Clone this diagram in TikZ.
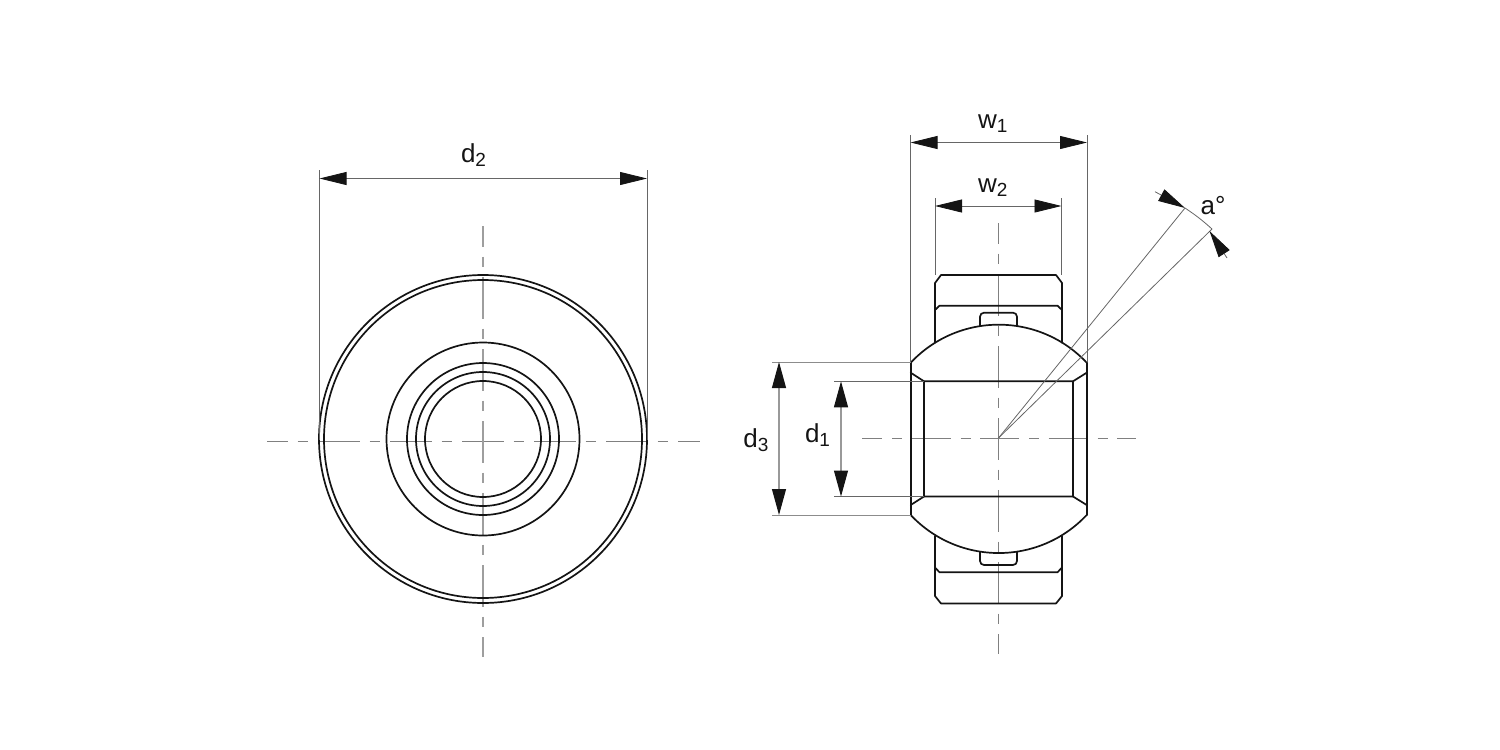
\documentclass[tikz,border=0pt]{standalone}
\usepackage{fontspec}
\setmainfont{Liberation Sans}
\usetikzlibrary{arrows.meta}
\newcommand{\dimsub}[1]{\raisebox{-2pt}{\fontsize{9.5pt}{9.5pt}\selectfont #1}}
\tikzset{
  x=0.5pt,y=-0.5pt,
  outline/.style={line width=0.85pt,color=black!92,line join=round,line cap=round},
  thinline/.style={line width=0.4pt,color=black!60},
  centreA/.style={line width=0.6pt,color=black!38,dash pattern=on 20.75pt off 5pt on 5.25pt off 5pt,dash phase=10.4pt},
  centreB/.style={line width=0.45pt,color=black!50,dash pattern=on 19.5pt off 5pt on 5pt off 4.75pt,dash phase=9.5pt},
  centreC/.style={line width=0.45pt,color=black!50,dash pattern=on 20.75pt off 5pt on 5.25pt off 5pt,dash phase=10.4pt},
  dimline/.style={line width=0.4pt,color=black!60,{Triangle[length=13.5pt,width=6.5pt,color=black!92]}-{Triangle[length=13.5pt,width=6.5pt,color=black!92]}},
  dimlineB/.style={line width=0.55pt,color=black!40,{Triangle[length=13pt,width=7pt,color=black!92]}-{Triangle[length=13pt,width=7pt,color=black!92]}},
  angarrow/.style={line width=0.4pt,color=black!60,-{Triangle[length=13.5pt,width=6.5pt,color=black!92]}},
  lab/.style={anchor=base west,inner sep=0pt,outer sep=0pt,font=\fontsize{13pt}{13pt}\selectfont,text=black!92}
}
\begin{document}
\begin{tikzpicture}
\useasboundingbox (0,0) rectangle (1500,750);
% left view centre lines
\coordinate (lc) at (483,439);
\coordinate (lw) at (267,441); \coordinate (le) at (699.5,441);
\coordinate (ln) at (483,226); \coordinate (ls) at (483,657);
\draw[centreC] (lw) -- (le);
\draw[centreA] (ln) -- (ls);
% left view circles
\foreach \r in {164,159,96.5,76,67,58}
  \draw[outline] (lc) circle[radius=\r*0.5pt];
% left dimension
\coordinate (d2a) at (319.5,178.5); \coordinate (d2b) at (647,178.5);
\draw[thinline] (319.5,170) -- (319.5,440);
\draw[thinline] (647,170) -- (647,440);
\draw[dimline] (d2a) -- (d2b);
\node[lab] (d2lab) at (461,162) {d\dimsub{2}};
% right view centre lines
\coordinate (rc) at (998.5,438);
\coordinate (rw) at (862,438); \coordinate (re) at (1136,438);
\coordinate (rn) at (998.5,223); \coordinate (rs) at (998.5,654);
\draw[centreB] (rw) -- (re);
\draw[centreC] (rn) -- (rs);
% outer ring
\draw[outline] (935,342.7) -- (935,283) -- (941,275) -- (1056,275) -- (1062,283) -- (1062,342.7);
\draw[outline] (935,310) -- (939.5,305.7) -- (1057.5,305.7) -- (1062,310);
\draw[outline] (935,536) -- (935,596) -- (941,603.5) -- (1056,603.5) -- (1062,596) -- (1062,536);
\draw[outline] (935,567.5) -- (939.5,572.3) -- (1057.5,572.3) -- (1062,567.5);
% tabs
\draw[outline,rounded corners=2pt] (980,326) -- (980,312.7) -- (1017,312.7) -- (1017,326);
\draw[outline,rounded corners=2pt] (980,552) -- (980,565) -- (1017,565) -- (1017,552);
% ball
\draw[outline] (910.7,362.7) .. controls (958.4,312) and (1039,312) .. (1086.7,362.7);
\draw[outline] (910.7,515) .. controls (958.4,565.7) and (1039,565.7) .. (1086.7,515);
\draw[outline] (910.7,362.7) -- (910.7,515);
\draw[outline] (1086.7,362.7) -- (1086.7,515);
\draw[outline] (910.7,372.7) -- (924,381.3) -- (1073,381.3) -- (1086.7,372.7);
\draw[outline] (910.7,505) -- (924,496.5) -- (1073,496.5) -- (1086.7,505);
\draw[outline] (924,381.3) -- (924,496.5);
\draw[outline] (1073,381.3) -- (1073,496.5);
% right dimensions
\draw[thinline] (910.5,135) -- (910.5,362);
\draw[thinline] (1087,135) -- (1087,362);
\coordinate (w1a) at (910.5,142.5); \coordinate (w1b) at (1087,142.5);
\draw[dimline] (w1a) -- (w1b);
\node[lab] (w1lab) at (978,128) {w\dimsub{1}};
\draw[thinline] (935,198) -- (935,275);
\draw[thinline] (1061.5,198) -- (1061.5,275);
\coordinate (w2a) at (935,206); \coordinate (w2b) at (1061.5,206);
\draw[dimline] (w2a) -- (w2b);
\node[lab] (w2lab) at (978,192) {w\dimsub{2}};
% d3, d1
\draw[thinline,color=black!45] (772,362) -- (911,362);
\draw[thinline,color=black!45] (772,515) -- (911,515);
\coordinate (d3a) at (779,362); \coordinate (d3b) at (779,515);
\draw[dimlineB] (d3a) -- (d3b);
\node[lab] (d3lab) at (743.3,447) {d\dimsub{3}};
\draw[thinline] (834,381.3) -- (924,381.3);
\draw[thinline] (834,496.5) -- (924,496.5);
\coordinate (d1a) at (841,381.3); \coordinate (d1b) at (841,496.5);
\draw[dimlineB] (d1a) -- (d1b);
\node[lab] (d1lab) at (805,442) {d\dimsub{1}};
% angle
\coordinate (a1) at (1185,208); \coordinate (a2) at (1212,229);
\coordinate (t1) at (1155,191.7); \coordinate (t2) at (1227,258);
\draw[thinline] (rc) -- (a1);
\draw[thinline] (rc) -- (a2);
\draw[thinline] (a1) to[bend left=4] (a2);
\draw[angarrow] (t1) -- (a1);
\draw[angarrow] (t2) -- (1209.5,231);
\node[lab] (alab) at (1200.7,214) {a°};
\end{tikzpicture}
\end{document}
